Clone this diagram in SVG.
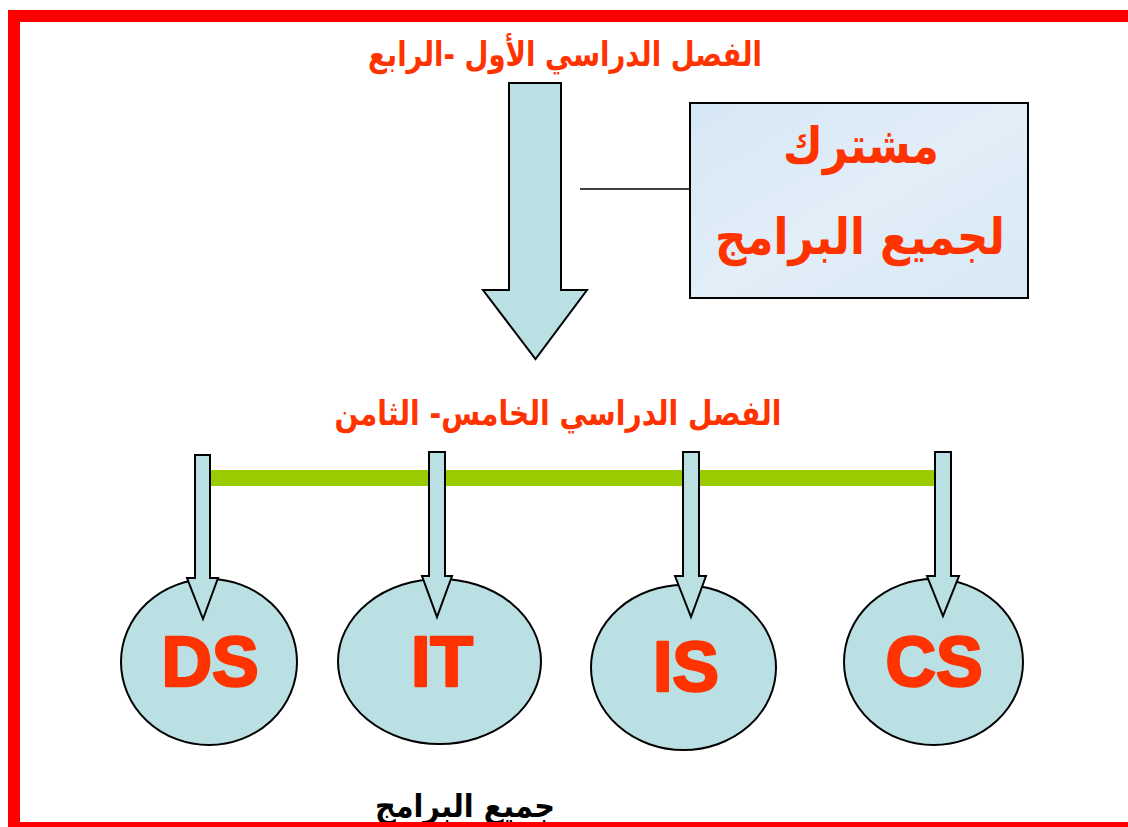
<svg xmlns="http://www.w3.org/2000/svg" width="1128" height="827" viewBox="0 0 1128 827">
<style>
.ar{font-family:"DejaVu Sans","Noto Sans",sans-serif;font-weight:bold;fill:#FF3300;text-anchor:middle;direction:rtl}
.lat{font-family:"Liberation Sans",Arial,sans-serif;font-weight:bold;fill:#FF3300;stroke:#FF3300;stroke-width:2.5;stroke-linejoin:round;text-anchor:middle;font-size:70px}
.shape{fill:#BBE0E3;stroke:#000;stroke-width:2}
</style>
<defs>
<linearGradient id="tex" x1="0" y1="0" x2="1" y2="1">
<stop offset="0" stop-color="#D6E7F5"/>
<stop offset="0.5" stop-color="#E2EEF8"/>
<stop offset="1" stop-color="#D8E8F4"/>
</linearGradient>
</defs>
<rect x="0" y="0" width="1128" height="827" fill="#fff"/>

<g id="title-top">
<text class="ar" x="565" y="66" font-size="34" textLength="394" lengthAdjust="spacingAndGlyphs">الفصل الدراسي الأول -الرابع</text>
</g>

<g id="box-common">
<rect x="690" y="103" width="338" height="195" fill="url(#tex)" stroke="#000" stroke-width="2"/>
<text class="ar" x="861" y="163" font-size="50" textLength="156" lengthAdjust="spacingAndGlyphs">مشترك</text>
<text class="ar" x="860" y="254" font-size="50" textLength="290" lengthAdjust="spacingAndGlyphs">لجميع البرامج</text>
</g>

<g id="title-mid">
<text class="ar" x="558" y="425" font-size="34" textLength="447" lengthAdjust="spacingAndGlyphs">الفصل الدراسي  الخامس- الثامن</text>
</g>

<g id="node-ds">
<ellipse class="shape" cx="209" cy="662" rx="88" ry="83"/>
<text class="lat" x="210" y="686">DS</text>
</g>
<g id="node-it">
<ellipse class="shape" cx="439.5" cy="661.5" rx="101.5" ry="82.5"/>
<text class="lat" x="442" y="686">IT</text>
</g>
<g id="node-is">
<ellipse class="shape" cx="683.5" cy="667.5" rx="92.5" ry="82.5"/>
<text class="lat" x="686" y="691">IS</text>
</g>
<g id="node-cs">
<ellipse class="shape" cx="933.5" cy="662" rx="89.5" ry="83"/>
<text class="lat" x="934" y="686">CS</text>
</g>

<g id="connectors">
<path class="shape" d="M509,83 H561 V290 H587 L535.5,359 L483,290 H509 Z"/>
<line x1="580" y1="189" x2="690" y2="189" stroke="#000" stroke-width="1.5"/>
<rect x="210" y="470" width="726" height="16" fill="#99CC00"/>
<path class="shape" d="M195,455 H210 V578 H218 L203,619 L187,578 H195 Z"/>
<path class="shape" d="M429,452 H445 V576 H452 L437,617 L422,576 H429 Z"/>
<path class="shape" d="M683,452 H699 V576 H706 L691,617 L675,576 H683 Z"/>
<path class="shape" d="M935,452 H951 V576 H959 L943,616 L927,576 H935 Z"/>
</g>

<g id="label-bottom">
<text x="465" y="817" font-family="DejaVu Sans,sans-serif" font-weight="bold" font-size="32" fill="#000" text-anchor="middle" direction="rtl" textLength="180" lengthAdjust="spacingAndGlyphs">جميع البرامج</text>
</g>

<g id="frame" fill="#FF0000">
<rect x="8" y="10" width="1120" height="12"/>
<rect x="8" y="10" width="12" height="817"/>
<rect x="8" y="822" width="1120" height="5"/>
</g>
</svg>
